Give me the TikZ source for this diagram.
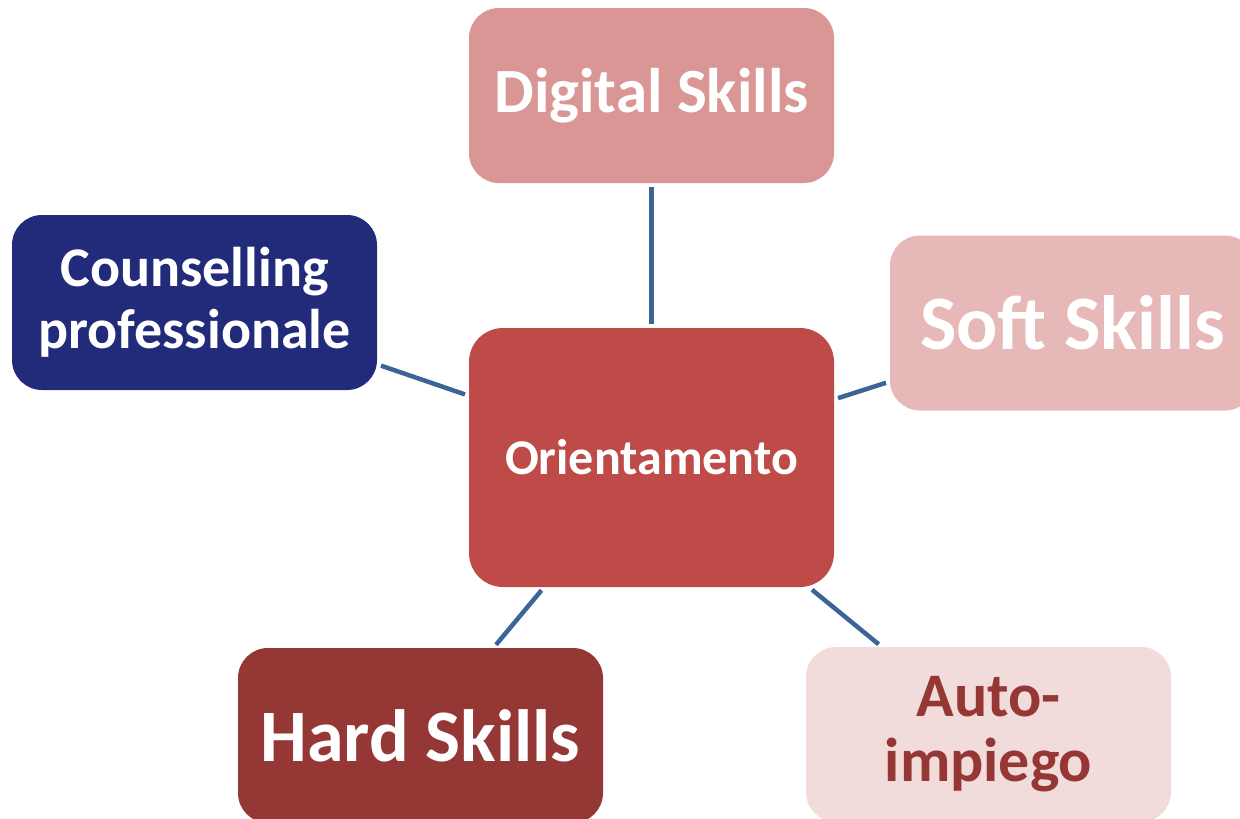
\documentclass[tikz,border=0pt]{standalone}
\usepackage{fontspec}
\setmainfont{Carlito}
\definecolor{cdig}{HTML}{D99694}
\definecolor{ccou}{HTML}{212B7A}
\definecolor{csoft}{HTML}{E6B8B7}
\definecolor{cori}{HTML}{BE4B48}
\definecolor{chard}{HTML}{953735}
\definecolor{cauto}{HTML}{F2DCDB}
\definecolor{cline}{HTML}{3C6496}
\tikzset{
  box/.style={rectangle, rounded corners=30pt, minimum width=365pt, minimum height=175pt, inner sep=0pt, align=center, font=\bfseries, text=white},
  conn/.style={draw=cline, line width=4.5pt, shorten >=4pt, shorten <=4pt}
}
\begin{document}
\begin{tikzpicture}[x=1pt,y=-1pt]
\useasboundingbox (0,0) rectangle (1240,819);
\clip (0,0) rectangle (1240,819);
\node[box, fill=cdig, font=\bfseries\fontsize{63}{70}\selectfont] (dig) at (651.5,95.5) {Digital Skills};
\node[box, fill=ccou, font=\bfseries\fontsize{56}{62}\selectfont] (cou) at (194.5,302.5) {Counselling\\professionale};
\node[box, fill=csoft, font=\bfseries\fontsize{77}{84}\selectfont] (soft) at (1072.5,323) {Soft Skills};
\node[box, fill=cori, minimum height=259pt, rounded corners=34pt, font=\bfseries\fontsize{50}{54}\selectfont] (ori) at (651.5,457.5) {Orientamento};
\node[box, fill=chard, font=\bfseries\fontsize{74}{80}\selectfont] (hard) at (420.5,735.5) {Hard Skills};
\node[box, fill=cauto, text=chard, font=\bfseries\fontsize{62}{65}\selectfont] (auto) at (988.5,734.5) {Auto-\\impiego};
\draw[conn] (dig) -- (ori);
\draw[conn] (cou) -- (ori);
\draw[conn] (soft) -- (ori);
\draw[conn] (hard) -- (ori);
\draw[conn] (auto) -- (ori);
\end{tikzpicture}
\end{document}
